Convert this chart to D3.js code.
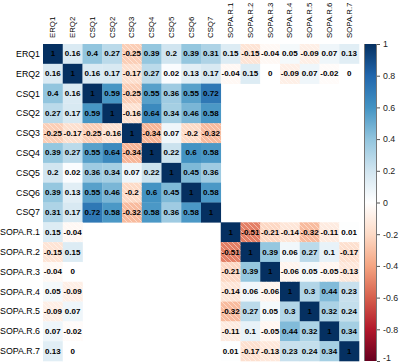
<!DOCTYPE html>
<html><head><meta charset="utf-8">
<script src="https://cdn.jsdelivr.net/npm/d3@7"></script>
<style>body{margin:0;background:#fff}svg{display:block}</style>
</head><body>
<svg id="c" width="400" height="364"></svg>
<script>
const variables = ["ERQ1","ERQ2","CSQ1","CSQ2","CSQ3","CSQ4","CSQ5","CSQ6","CSQ7",
  "SOPA.R.1","SOPA.R.2","SOPA.R.3","SOPA.R.4","SOPA.R.5","SOPA.R.6","SOPA.R.7"];
const N = null;
const rowERQ1 = [1,0.16,0.4,0.27,-0.25,0.39,0.2,0.39,0.31,0.15,-0.15,-0.04,0.05,-0.09,0.07,0.13];
const rowERQ2 = [0.16,1,0.16,0.17,-0.17,0.27,0.02,0.13,0.17,-0.04,0.15,0,-0.09,0.07,-0.02,0];
const rowCSQ1 = [0.4,0.16,1,0.59,-0.25,0.55,0.36,0.55,0.72,N,N,N,N,N,N,N];
const rowCSQ2 = [0.27,0.17,0.59,1,-0.16,0.64,0.34,0.46,0.58,N,N,N,N,N,N,N];
const rowCSQ3 = [-0.25,-0.17,-0.25,-0.16,1,-0.34,0.07,-0.2,-0.32,N,N,N,N,N,N,N];
const rowCSQ4 = [0.39,0.27,0.55,0.64,-0.34,1,0.22,0.6,0.58,N,N,N,N,N,N,N];
const rowCSQ5 = [0.2,0.02,0.36,0.34,0.07,0.22,1,0.45,0.36,N,N,N,N,N,N,N];
const rowCSQ6 = [0.39,0.13,0.55,0.46,-0.2,0.6,0.45,1,0.58,N,N,N,N,N,N,N];
const rowCSQ7 = [0.31,0.17,0.72,0.58,-0.32,0.58,0.36,0.58,1,N,N,N,N,N,N,N];
const rowSOPA1 = [0.15,-0.04,N,N,N,N,N,N,N,1,-0.51,-0.21,-0.14,-0.32,-0.11,0.01];
const rowSOPA2 = [-0.15,0.15,N,N,N,N,N,N,N,-0.51,1,0.39,0.06,0.27,0.1,-0.17];
const rowSOPA3 = [-0.04,0,N,N,N,N,N,N,N,-0.21,0.39,1,-0.06,0.05,-0.05,-0.13];
const rowSOPA4 = [0.05,-0.09,N,N,N,N,N,N,N,-0.14,0.06,-0.06,1,0.3,0.44,0.23];
const rowSOPA5 = [-0.09,0.07,N,N,N,N,N,N,N,-0.32,0.27,0.05,0.3,1,0.32,0.24];
const rowSOPA6 = [0.07,-0.02,N,N,N,N,N,N,N,-0.11,0.1,-0.05,0.44,0.32,1,0.34];
const rowSOPA7 = [0.13,0,N,N,N,N,N,N,N,0.01,-0.17,-0.13,0.23,0.24,0.34,1];
const matrix = [rowERQ1,rowERQ2,rowCSQ1,rowCSQ2,rowCSQ3,rowCSQ4,rowCSQ5,rowCSQ6,rowCSQ7,
  rowSOPA1,rowSOPA2,rowSOPA3,rowSOPA4,rowSOPA5,rowSOPA6,rowSOPA7];
const legendTicks = [1,0.8,0.6,0.4,0.2,0,-0.2,-0.4,-0.6,-0.8,-1];
const paletteStops = [-1,-0.8,-0.6,-0.4,-0.2,0,0.2,0.4,0.6,0.8,1];
const paletteColors = ["#67001F","#B2182B","#D6604D","#F4A582","#FDDBC7","#FFFFFF","#D1E5F0","#92C5DE","#4393C3","#2166AC","#053061"];

(function(){
const svg = d3.select("#c");
const font = "'Liberation Sans', Arial, sans-serif";
const gL = 43, gR = 359, gT = 44, gB = 361;
const x = d3.scaleBand().domain(variables).range([gL, gR]);
const y = d3.scaleBand().domain(variables).range([gT, gB]);
const color = d3.scaleLinear().domain(paletteStops).range(paletteColors).interpolate(d3.interpolateRgb);

const defs = svg.append("defs");
const pat = defs.append("pattern").attr("id","hatch").attr("patternUnits","userSpaceOnUse")
  .attr("width",5).attr("height",5);
pat.append("path").attr("d","M-1,-1 L6,6 M-6,-1 L1,6 M4,-1 L11,6")
  .attr("stroke","#fff").attr("stroke-opacity",0.5).attr("stroke-width",0.9);

const cells = [];
matrix.forEach((row,i)=>row.forEach((v,j)=>{ if(v!==null) cells.push({r:variables[i],c:variables[j],v}); }));

const g = svg.append("g");
g.selectAll("rect.cell").data(cells).join("rect").attr("class","cell")
  .attr("x",d=>x(d.c)).attr("y",d=>y(d.r))
  .attr("width",x.bandwidth()+0.3).attr("height",y.bandwidth()+0.3)
  .attr("fill",d=>color(d.v));
g.selectAll("rect.hatch").data(cells.filter(d=>d.v<0)).join("rect").attr("class","hatch")
  .attr("x",d=>x(d.c)).attr("y",d=>y(d.r))
  .attr("width",x.bandwidth()).attr("height",y.bandwidth())
  .attr("fill","url(#hatch)");
g.selectAll("text.num").data(cells).join("text").attr("class","num")
  .attr("x",d=>x(d.c)+x.bandwidth()/2).attr("y",d=>y(d.r)+y.bandwidth()/2)
  .attr("text-anchor","middle").attr("dominant-baseline","central")
  .attr("font-family",font).attr("font-size",8).attr("font-weight","bold").attr("fill","#000")
  .text(d=>String(d.v));

svg.append("g").selectAll("text").data(variables).join("text")
  .attr("x",40).attr("y",d=>y(d)+y.bandwidth()/2)
  .attr("text-anchor","end").attr("dominant-baseline","central")
  .attr("font-family",font).attr("font-size",8.8).attr("fill","#000").text(d=>d);
svg.append("g").selectAll("text").data(variables).join("text")
  .attr("transform",d=>`translate(${x(d)+x.bandwidth()/2},38) rotate(-90)`)
  .attr("text-anchor","start").attr("dominant-baseline","central")
  .attr("font-family",font).attr("font-size",7.8).attr("fill","#000").text(d=>d);

const cb = svg.append("g");
const ly = d3.scaleLinear().domain([1,-1]).range([gT, gB]);
const lg = defs.append("linearGradient").attr("id","cbgrad").attr("x1",0).attr("y1",0).attr("x2",0).attr("y2",1);
paletteStops.slice().reverse().forEach((s)=>{
  lg.append("stop").attr("offset",(ly(s)-gT)/(gB-gT)).attr("stop-color",color(s));
});
cb.append("rect").attr("x",364).attr("y",gT).attr("width",13).attr("height",gB-gT).attr("fill","url(#cbgrad)");
cb.append("line").attr("x1",364.5).attr("x2",364.5).attr("y1",gT).attr("y2",gB).attr("stroke","#777").attr("stroke-width",1);
cb.append("line").attr("x1",376.5).attr("x2",376.5).attr("y1",gT).attr("y2",gB).attr("stroke","#777").attr("stroke-width",1);
const ax = d3.axisRight(ly).tickValues(legendTicks).tickSize(3).tickFormat(d=>String(d));
const axg = cb.append("g").attr("transform","translate(377,0)").call(ax);
axg.select(".domain").remove();
axg.selectAll("line").attr("stroke","#555");
axg.selectAll("text").attr("font-family",font).attr("font-size",8.8).attr("fill","#222").attr("x",6)
  .attr("dy",d=>d===-1?"-0.05em":"0.32em");
})();
</script>
</body></html>
